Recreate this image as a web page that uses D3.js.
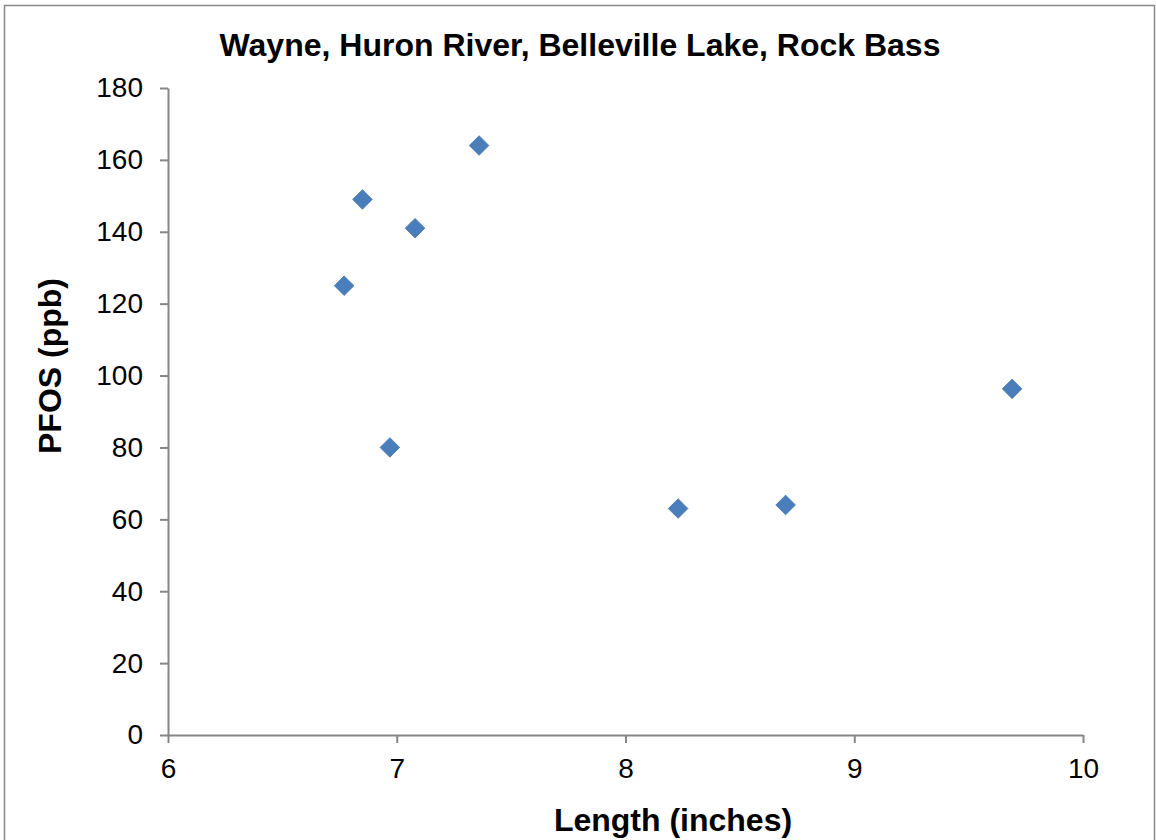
<!DOCTYPE html>
<html>
<head>
<meta charset="utf-8">
<script src="https://cdn.jsdelivr.net/npm/d3@7"></script>
<style>
  body { margin: 0; background: #fff; }
  svg { font-family: "Liberation Sans", Arial, sans-serif; }
</style>
</head>
<body>
<div id="chart"></div>
<script>
// Length (inches) vs PFOS (ppb)
const lengths = [6.77, 6.85, 7.08, 7.36, 6.97, 8.23, 8.70, 9.69];
const pfos = [125, 149, 141, 164, 80, 63, 64, 96.3];
const xTicks = [6, 7, 8, 9, 10];
const yTicks = [0, 20, 40, 60, 80, 100, 120, 140, 160, 180];

const width = 1156, height = 840;
const svg = d3.select("#chart").append("svg")
    .attr("width", width).attr("height", height);

// outer chart border
svg.append("rect")
    .attr("x", 4.5).attr("y", 5.5).attr("width", 1150).attr("height", 850)
    .attr("fill", "none").attr("stroke", "#888").attr("stroke-width", 1.5);

const x = d3.scaleLinear().domain([6, 10]).range([168, 1083]);
const y = d3.scaleLinear().domain([0, 180]).range([735, 88]);

const axisColor = "#868686";

const xAxis = svg.append("g")
    .attr("transform", `translate(0,${y(0)})`)
    .call(d3.axisBottom(x).tickValues(xTicks).tickSize(8).tickSizeOuter(0).tickPadding(15).tickFormat(d3.format("d")));

const yAxis = svg.append("g")
    .attr("transform", `translate(${x(6)},0)`)
    .call(d3.axisLeft(y).tickValues(yTicks).tickSize(8).tickSizeOuter(0).tickPadding(17).tickFormat(d3.format("d")));

[xAxis, yAxis].forEach(a => {
    a.selectAll("path, line").attr("stroke", axisColor).attr("stroke-width", 2);
    a.selectAll("text").attr("fill", "#000").style("font-size", "28px")
        .style("font-family", "'Liberation Sans', Arial, sans-serif");
});

// markers: diamonds
const r = 9.8;
svg.append("g").selectAll("path").data(lengths).join("path")
    .attr("d", (d, i) => {
        const cx = x(d), cy = y(pfos[i]);
        return `M${cx},${cy - r}L${cx + r},${cy}L${cx},${cy + r}L${cx - r},${cy}Z`;
    })
    .attr("fill", "#4a7ebb")
    .attr("stroke", "#4574b0").attr("stroke-width", 0.8);

// titles
svg.append("text")
    .attr("x", 580).attr("y", 56)
    .attr("text-anchor", "middle")
    .style("font-size", "32px").style("font-weight", "bold")
    .text("Wayne, Huron River, Belleville Lake, Rock Bass");

svg.append("text")
    .attr("x", 673).attr("y", 831)
    .attr("text-anchor", "middle")
    .style("font-size", "32px").style("font-weight", "bold")
    .text("Length (inches)");

svg.append("text")
    .attr("transform", "translate(61,366) rotate(-90)")
    .attr("text-anchor", "middle")
    .style("font-size", "32px").style("font-weight", "bold")
    .text("PFOS (ppb)");
</script>
</body>
</html>
